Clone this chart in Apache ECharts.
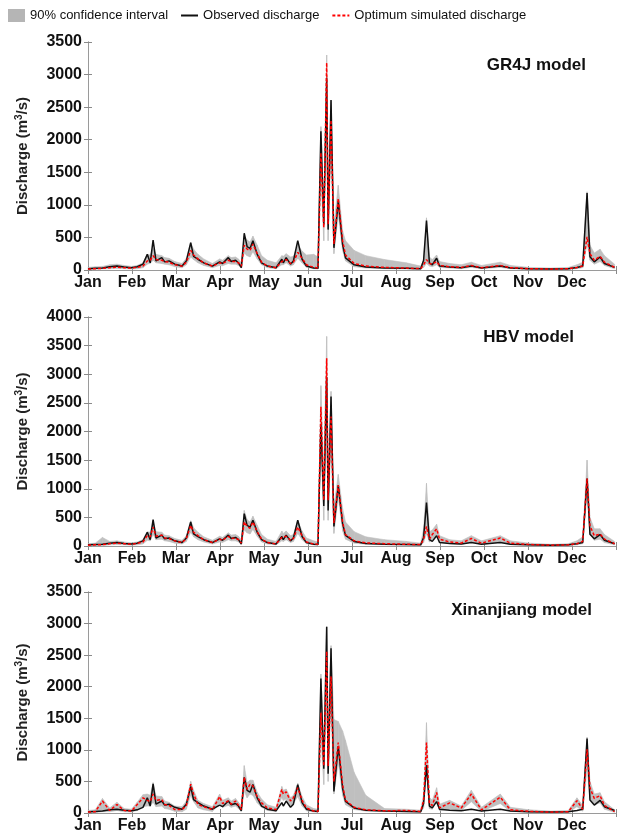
<!DOCTYPE html>
<html>
<head>
<meta charset="utf-8">
<title>Daily discharge - GR4J / HBV / Xinanjiang</title>
<script src="https://cdn.jsdelivr.net/npm/echarts@6/dist/echarts.min.js"></script>
<style>
  html, body { margin: 0; padding: 0; background: #fff; }
  #main { width: 632px; height: 834px; }
</style>
</head>
<body>
<div id="main"></div>
<script>
// month labels, one per month start
const months = ['Jan', 'Feb', 'Mar', 'Apr', 'May', 'Jun', 'Jul', 'Aug', 'Sep', 'Oct', 'Nov', 'Dec']

// day of year for every sample
const days = [
  0, 5, 10, 15, 20, 25, 30, 34, 38, 41,
  43, 45, 47, 51, 53, 56, 60, 65, 68, 71,
  73, 76, 80, 86, 91, 93, 97, 99, 102, 104,
  106, 108, 110, 112, 114, 117, 120, 124, 130, 134,
  135, 137, 140, 142, 145, 148, 151, 156, 159, 161,
  163, 165, 166, 168, 170, 173, 176, 178, 184, 192,
  205, 220, 230, 232, 234, 236, 238, 241, 243, 250,
  258, 265, 272, 285, 292, 305, 320, 332, 338, 342,
  345, 347, 350, 354, 357, 364
]

// observed discharge (same in all three panels), m3/s
const observed = [
  20, 25, 30, 50, 60, 45, 35, 50, 90, 240,
  110, 460, 140, 190, 125, 140, 90, 60, 140, 420,
  210, 165, 110, 60, 125, 100, 190, 130, 150, 110,
  35, 565, 360, 330, 450, 240, 110, 60, 35, 165,
  110, 190, 90, 140, 450, 165, 60, 30, 25, 2130,
  700, 2950, 620, 2610, 340, 1060, 390, 185, 80, 45,
  30, 25, 20, 150, 760, 110, 80, 180, 60, 45,
  35, 60, 30, 60, 30, 20, 15, 20, 40, 60,
  1180, 205, 125, 200, 100, 40
]

// GR4J
const gr4jSim = [
  15, 20, 25, 35, 45, 35, 30, 40, 60, 140,
  150, 220, 160, 150, 130, 120, 80, 60, 120, 300,
  230, 170, 110, 60, 110, 100, 150, 130, 130, 110,
  60, 380, 320, 300, 400, 250, 120, 60, 35, 130,
  120, 160, 100, 120, 270, 180, 80, 40, 30, 1800,
  650, 3180, 700, 2300, 400, 1100, 450, 230, 100, 60,
  40, 30, 20, 80, 160, 100, 90, 130, 70, 50,
  40, 70, 35, 70, 35, 20, 15, 20, 40, 60,
  510, 250, 150, 210, 120, 40
]
const gr4jHigh = [
  40, 50, 55, 80, 90, 70, 55, 70, 110, 240,
  230, 330, 240, 220, 190, 180, 130, 100, 180, 420,
  320, 240, 170, 100, 170, 150, 220, 190, 200, 170,
  110, 520, 460, 430, 520, 380, 220, 150, 110, 220,
  210, 250, 200, 210, 380, 290, 230, 240, 200, 2200,
  900, 3300, 900, 2600, 700, 1300, 600, 450, 300, 220,
  160, 110, 60, 150, 800, 200, 160, 230, 130, 100,
  80, 120, 70, 120, 70, 40, 30, 40, 80, 120,
  1200, 380, 260, 320, 220, 90
]
const gr4jLow = [
  5, 10, 15, 20, 25, 20, 15, 20, 35, 90,
  100, 150, 110, 100, 90, 80, 50, 35, 80, 200,
  160, 110, 70, 35, 70, 65, 100, 90, 90, 70,
  30, 260, 220, 200, 280, 170, 80, 35, 20, 80,
  80, 110, 60, 80, 180, 110, 40, 20, 15, 1400,
  450, 2700, 450, 1900, 250, 850, 300, 140, 50, 30,
  20, 15, 10, 40, 100, 60, 50, 80, 40, 30,
  20, 40, 20, 40, 20, 10, 8, 10, 20, 35,
  400, 150, 90, 130, 70, 20
]

// HBV
const hbvSim = [
  15, 20, 25, 40, 50, 40, 30, 45, 70, 180,
  160, 330, 170, 190, 140, 130, 90, 60, 130, 360,
  240, 180, 110, 60, 120, 100, 170, 130, 140, 110,
  50, 420, 340, 310, 420, 250, 120, 60, 35, 150,
  120, 170, 100, 130, 330, 180, 70, 35, 30, 2430,
  800, 3280, 800, 2260, 400, 1065, 420, 200, 90, 55,
  40, 30, 25, 120, 340, 120, 200, 300, 120, 70,
  50, 130, 50, 140, 50, 25, 15, 20, 40, 80,
  1180, 350, 180, 210, 120, 40
]
const hbvHigh = [
  40, 50, 150, 80, 90, 70, 55, 70, 110, 250,
  240, 420, 250, 240, 190, 180, 130, 100, 180, 440,
  320, 240, 160, 100, 170, 150, 230, 190, 200, 170,
  110, 620, 460, 420, 520, 360, 200, 120, 80, 260,
  220, 260, 180, 200, 440, 260, 140, 90, 70, 2800,
  1300, 3660, 1200, 2700, 700, 1250, 650, 420, 250, 160,
  110, 80, 50, 300, 1095, 250, 280, 380, 180, 110,
  90, 180, 90, 180, 90, 50, 30, 40, 90, 160,
  1500, 500, 300, 300, 200, 80
]
const hbvLow = [
  5, 8, 10, 20, 25, 20, 15, 20, 35, 100,
  90, 200, 110, 120, 90, 80, 50, 35, 80, 240,
  160, 110, 70, 35, 70, 60, 110, 90, 90, 70,
  30, 280, 230, 210, 290, 170, 70, 35, 20, 90,
  80, 110, 60, 80, 220, 110, 40, 20, 15, 1800,
  450, 2700, 450, 1800, 220, 850, 260, 120, 50, 30,
  20, 15, 10, 60, 220, 70, 110, 180, 70, 40,
  25, 70, 25, 70, 25, 10, 8, 10, 20, 40,
  900, 200, 100, 120, 60, 20
]

// Xinanjiang
const xajSim = [
  15, 20, 190, 40, 135, 40, 30, 135, 240, 200,
  180, 300, 200, 215, 135, 120, 55, 55, 120, 455,
  300, 135, 100, 55, 260, 150, 190, 140, 190, 120,
  55, 565, 375, 455, 430, 250, 160, 80, 55, 375,
  300, 335, 190, 240, 400, 200, 80, 30, 25, 1590,
  745, 2560, 745, 2165, 500, 1115, 450, 200, 90, 50,
  35, 40, 25, 200, 1115, 150, 120, 325, 80, 160,
  80, 300, 50, 250, 50, 25, 15, 20, 195, 60,
  1010, 400, 230, 275, 120, 20
]
const xajHigh = [
  40, 50, 230, 80, 170, 70, 60, 170, 290, 300,
  280, 480, 270, 260, 190, 170, 110, 100, 190, 500,
  360, 200, 150, 100, 300, 200, 240, 190, 230, 170,
  120, 750, 480, 520, 520, 330, 220, 130, 90, 420,
  360, 380, 240, 280, 470, 260, 130, 70, 60, 2200,
  1000, 2950, 1000, 2650, 1480, 1450, 1300, 1150, 640, 280,
  70, 60, 45, 300, 1430, 250, 200, 400, 140, 200,
  110, 360, 90, 300, 90, 50, 30, 40, 240, 120,
  1200, 500, 300, 320, 180, 50
]
const xajLow = [
  5, 8, 20, 20, 40, 20, 15, 40, 100, 110,
  110, 170, 100, 110, 70, 60, 25, 20, 60, 280,
  180, 80, 50, 25, 150, 90, 120, 90, 110, 70,
  25, 350, 240, 300, 280, 160, 90, 40, 25, 250,
  200, 220, 110, 150, 260, 110, 35, 15, 12, 1200,
  450, 2200, 500, 1700, 300, 800, 280, 130, 55, 30,
  20, 20, 10, 80, 700, 70, 60, 200, 40, 60,
  40, 180, 25, 150, 25, 10, 8, 10, 100, 30,
  700, 230, 130, 160, 60, 10
]

const panels = [
  { title: 'GR4J model', yMax: 3500, sim: gr4jSim, low: gr4jLow, high: gr4jHigh },
  { title: 'HBV model', yMax: 4000, sim: hbvSim, low: hbvLow, high: hbvHigh },
  { title: 'Xinanjiang model', yMax: 3500, sim: xajSim, low: xajLow, high: xajHigh }
]

const FONT = '"Liberation Sans", Arial, Helvetica, sans-serif'
const MONTH = 365 / 12
const BAND = '90% confidence interval'
const OBS = 'Observed discharge'
const SIM = 'Optimum simulated discharge'
const GREY = '#bfbfbf'

// plot area of each panel (px)
const grids = [
  { left: 88, right: 16, top: 42, height: 228 },
  { left: 88, right: 16, top: 317, height: 229 },
  { left: 88, right: 16, top: 592, height: 222 }
]
// title box for each panel
const titlePos = [
  { right: 46, top: 57 },
  { right: 58, top: 329 },
  { right: 40, top: 602 }
]

function pairs(values) {
  return days.map((d, i) => [d, values[i]])
}

// one quad per pair of neighbouring samples: [d0, lo0, hi0, d1, lo1, hi1]
function bandSegments(low, high) {
  const out = []
  for (let i = 0; i < days.length - 1; i++) {
    out.push([days[i], low[i], high[i], days[i + 1], low[i + 1], high[i + 1]])
  }
  return out
}

function renderBand(params, api) {
  const p1 = api.coord([api.value(0), api.value(1)])
  const p2 = api.coord([api.value(0), api.value(2)])
  const p3 = api.coord([api.value(3), api.value(5)])
  const p4 = api.coord([api.value(3), api.value(4)])
  return {
    type: 'polygon',
    shape: { points: [p1, p2, p3, p4] },
    style: { fill: GREY, stroke: GREY, lineWidth: 0.6 }
  }
}

const boxLine = { lineStyle: { color: '#9a9a9a', width: 1 } }
const boxTick = { inside: true, length: 4, lineStyle: { color: '#8a8a8a' } }

const xAxis = []
const yAxis = []
const series = []
const title = []

panels.forEach((p, k) => {
  // bottom axis with month names, top axis just for the box ticks
  xAxis.push({
    gridIndex: k, type: 'value', min: 0, max: 365, interval: MONTH, position: 'bottom',
    axisLine: boxLine, axisTick: boxTick, splitLine: { show: false },
    axisLabel: {
      color: '#111', fontSize: 16, fontWeight: 'bold', fontFamily: FONT, margin: 5,
      formatter: v => months[Math.round(v / MONTH)] || ''
    }
  })
  xAxis.push({
    gridIndex: k, type: 'value', min: 0, max: 365, interval: MONTH, position: 'top',
    axisLine: boxLine, axisTick: boxTick, splitLine: { show: false }, axisLabel: { show: false }
  })
  yAxis.push({
    gridIndex: k, type: 'value', min: 0, max: p.yMax, interval: 500, position: 'left',
    axisLine: { show: true, ...boxLine }, axisTick: boxTick, splitLine: { show: false },
    axisLabel: {
      color: '#111', fontSize: 16, fontWeight: 'bold', fontFamily: FONT, margin: 6,
      formatter: v => String(v)
    },
    name: '{t|Discharge (m}{s|3}{t|/s)}',
    nameLocation: 'middle', nameGap: 56, nameRotate: 90,
    nameTextStyle: {
      rich: {
        t: { fontSize: 15, fontWeight: 'bold', color: '#222', fontFamily: FONT, lineHeight: 18 },
        s: { fontSize: 10, fontWeight: 'bold', color: '#222', fontFamily: FONT, verticalAlign: 'top', lineHeight: 10 }
      }
    }
  })
  yAxis.push({
    gridIndex: k, type: 'value', min: 0, max: p.yMax, interval: 500, position: 'right',
    axisLine: { show: true, ...boxLine }, axisTick: boxTick, splitLine: { show: false },
    axisLabel: { show: false }
  })

  const xi = 2 * k
  series.push({
    type: 'custom', name: BAND, xAxisIndex: xi, yAxisIndex: xi, silent: true,
    renderItem: renderBand, itemStyle: { color: GREY },
    encode: { x: [0, 3], y: [1, 2, 4, 5] },
    data: bandSegments(p.low, p.high), z: 1
  })
  series.push({
    type: 'line', name: OBS, xAxisIndex: xi, yAxisIndex: xi, symbol: 'none', silent: true,
    lineStyle: { color: '#111', width: 1.5 }, itemStyle: { color: '#111' },
    data: pairs(observed), z: 3
  })
  series.push({
    type: 'line', name: SIM, xAxisIndex: xi, yAxisIndex: xi, symbol: 'none', silent: true,
    lineStyle: { color: '#ff0000', width: 1.5, type: [3, 2] }, itemStyle: { color: '#ff0000' },
    data: pairs(p.sim), z: 4
  })

  title.push({
    text: p.title, right: titlePos[k].right, top: titlePos[k].top, padding: 0,
    textStyle: { fontSize: 17, fontWeight: 'bold', color: '#111', fontFamily: FONT }
  })
})

const chart = echarts.init(document.getElementById('main'), null, { renderer: 'canvas' })
chart.setOption({
  animation: false,
  backgroundColor: '#fff',
  title: title,
  legend: {
    left: 8, top: 9, padding: 0, itemGap: 12, itemWidth: 17, itemHeight: 13,
    selectedMode: false,
    textStyle: { fontSize: 13, color: '#111', fontFamily: FONT },
    data: [
      { name: BAND, icon: 'rect', itemStyle: { color: '#b5b5b5' } },
      { name: OBS, itemStyle: { opacity: 0 } },
      { name: SIM, itemStyle: { opacity: 0 } }
    ]
  },
  grid: grids,
  xAxis: xAxis,
  yAxis: yAxis,
  series: series
})
</script>
</body>
</html>
